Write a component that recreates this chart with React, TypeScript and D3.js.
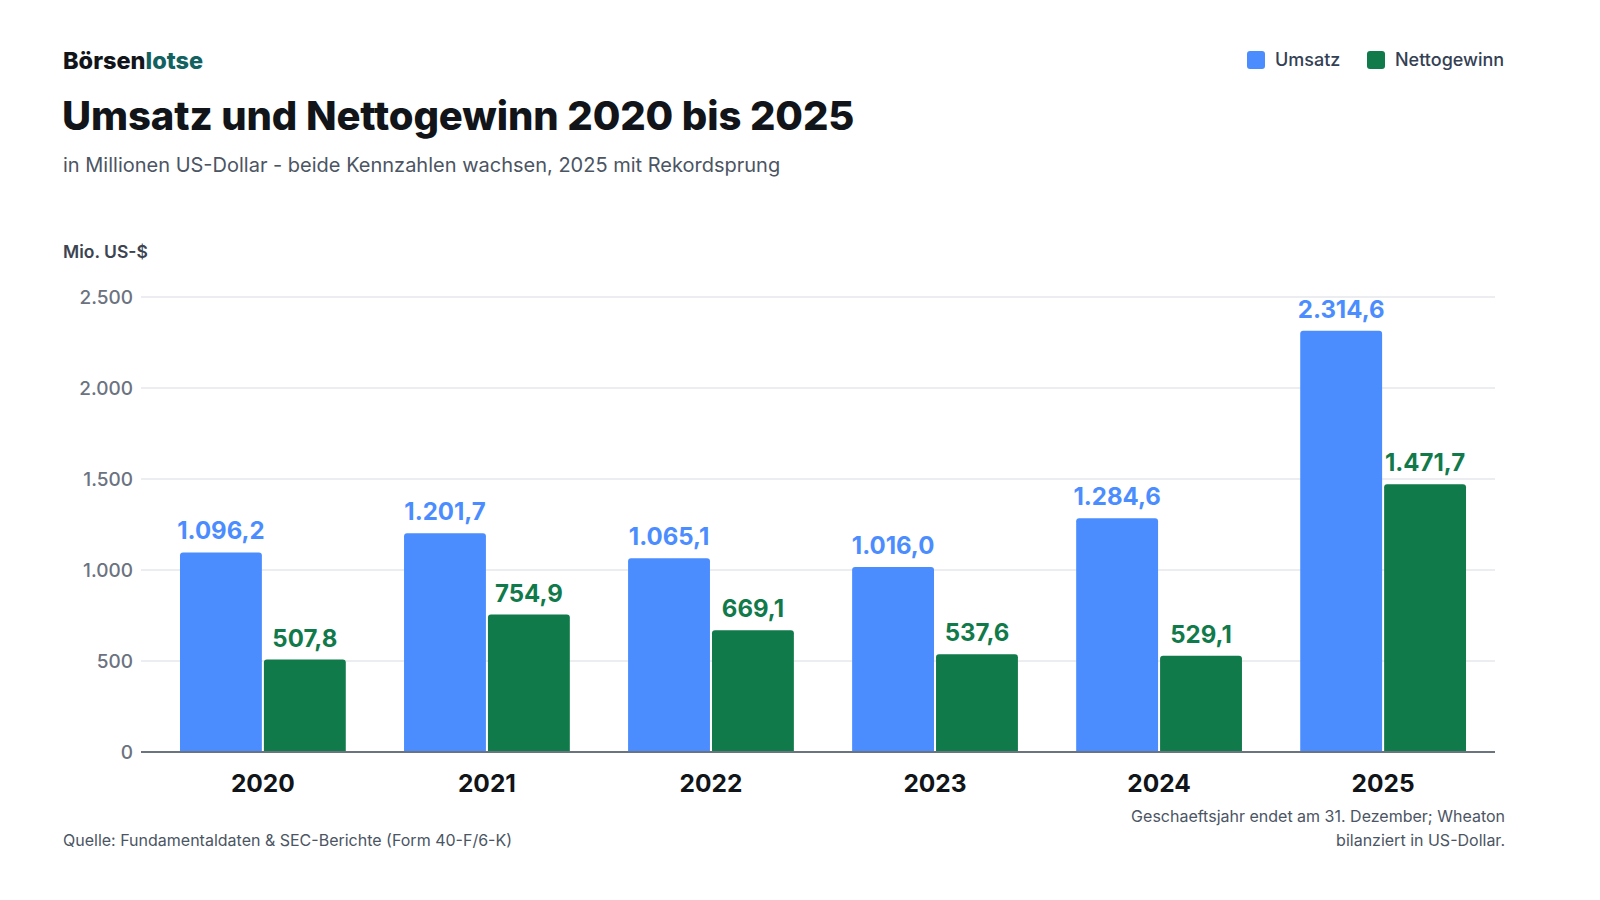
import { useRef, useEffect } from 'react';
import * as d3 from 'd3';

const YEARS = ['2020', '2021', '2022', '2023', '2024', '2025'];
const UMSATZ = [1096.2, 1201.7, 1065.1, 1016.0, 1284.6, 2314.6];
const NETTOGEWINN = [507.8, 754.9, 669.1, 537.6, 529.1, 1471.7];
const Y_TICKS = [0, 500, 1000, 1500, 2000, 2500];

const SERIES = [
  { key: 'Umsatz', values: UMSATZ, color: '#4b8dff', label: '#4b8dff' },
  { key: 'Nettogewinn', values: NETTOGEWINN, color: '#117a4b', label: '#117a4b' },
];

const W = 1600;
const H = 900;
const FONT = 'Inter, "Noto Sans", sans-serif';

const fmt = (v: number) =>
  v.toLocaleString('de-DE', { minimumFractionDigits: 1, maximumFractionDigits: 1 });
const fmtTick = (v: number) => v.toLocaleString('de-DE');

export default function App() {
  const ref = useRef<SVGSVGElement>(null);

  useEffect(() => {
    document.body.style.margin = '0';
    if (!ref.current) return;
    const svg = d3.select(ref.current);
    svg.selectAll('*').remove();

    const plotLeft = 141;
    const plotRight = 1495;

    const x = d3.scaleBand<string>()
      .domain(YEARS)
      .range([141, 1505])
      .paddingInner(0.26)
      .paddingOuter(0.174);

    const inner = d3.scaleBand<string>()
      .domain(SERIES.map(s => s.key))
      .range([0, x.bandwidth()])
      .paddingInner(0.024);

    const y = d3.scaleLinear().domain([0, 2500]).range([752, 297]);

    // Header
    const logo = svg.append('text')
      .attr('x', 63).attr('y', 69)
      .attr('font-family', FONT).attr('font-size', 23.5).attr('font-weight', 800);
    logo.append('tspan').attr('fill', '#111418').text('Börsen');
    logo.append('tspan').attr('fill', '#13625f').text('lotse');

    svg.append('text')
      .attr('x', 62).attr('y', 130)
      .attr('font-family', FONT).attr('font-size', 40).attr('font-weight', 800)
      .attr('letter-spacing', '-0.1')
      .attr('fill', '#111418')
      .text('Umsatz und Nettogewinn 2020 bis 2025');

    svg.append('text')
      .attr('x', 63).attr('y', 172)
      .attr('font-family', FONT).attr('font-size', 20)
      .attr('fill', '#4b5563')
      .text('in Millionen US-Dollar - beide Kennzahlen wachsen, 2025 mit Rekordsprung');

    // Legend
    const legendPos = [1247, 1367];
    SERIES.forEach((s, i) => {
      const g = svg.append('g').attr('transform', `translate(${legendPos[i]},51)`);
      g.append('rect').attr('width', 18).attr('height', 18).attr('rx', 3).attr('fill', s.color);
      g.append('text')
        .attr('x', 28).attr('y', 15)
        .attr('font-family', FONT).attr('font-size', 18).attr('font-weight', 500)
        .attr('fill', '#344054')
        .text(s.key);
    });

    // Y axis label
    svg.append('text')
      .attr('x', 63).attr('y', 258)
      .attr('font-family', FONT).attr('font-size', 17.5).attr('font-weight', 600)
      .attr('fill', '#3d4451')
      .text('Mio. US-$');

    // Grid + ticks
    const grid = svg.append('g');
    grid.selectAll('line')
      .data(Y_TICKS.filter(t => t > 0))
      .join('line')
      .attr('x1', plotLeft).attr('x2', plotRight)
      .attr('y1', d => y(d)).attr('y2', d => y(d))
      .attr('stroke', '#e5e7eb').attr('stroke-width', 1.5);

    grid.selectAll('text')
      .data(Y_TICKS)
      .join('text')
      .attr('x', 133).attr('y', d => y(d) + 7)
      .attr('text-anchor', 'end')
      .attr('font-family', FONT).attr('font-size', 19).attr('font-weight', 500)
      .attr('fill', '#6b7280')
      .text(d => fmtTick(d));

    // Bars
    const groups = svg.append('g').selectAll('g')
      .data(YEARS)
      .join('g')
      .attr('transform', d => `translate(${x(d)},0)`);

    SERIES.forEach(s => {
      groups.append('path')
        .attr('d', (_, i) => {
          const x0 = inner(s.key)!;
          const w = inner.bandwidth();
          const top = y(s.values[i]);
          const bottom = y(0);
          const r = 3;
          return `M${x0},${bottom}V${top + r}Q${x0},${top} ${x0 + r},${top}H${x0 + w - r}Q${x0 + w},${top} ${x0 + w},${top + r}V${bottom}Z`;
        })
        .attr('fill', s.color);

      groups.append('text')
        .attr('x', inner(s.key)! + inner.bandwidth() / 2)
        .attr('y', (_, i) => y(s.values[i]) - 13)
        .attr('text-anchor', 'middle')
        .attr('font-family', FONT).attr('font-size', 24).attr('font-weight', 700)
        .attr('fill', s.label)
        .text((_, i) => fmt(s.values[i]));
    });

    // Baseline
    svg.append('line')
      .attr('x1', plotLeft).attr('x2', plotRight)
      .attr('y1', y(0)).attr('y2', y(0))
      .attr('stroke', '#6b7280').attr('stroke-width', 2);

    // X labels
    svg.append('g').selectAll('text')
      .data(YEARS)
      .join('text')
      .attr('x', d => x(d)! + x.bandwidth() / 2)
      .attr('y', 792)
      .attr('text-anchor', 'middle')
      .attr('font-family', FONT).attr('font-size', 24.5).attr('font-weight', 700)
      .attr('fill', '#111418')
      .text(d => d);

    // Footer
    svg.append('text')
      .attr('x', 63).attr('y', 846)
      .attr('font-family', FONT).attr('font-size', 16)
      .attr('fill', '#4b5563')
      .text('Quelle: Fundamentaldaten & SEC-Berichte (Form 40-F/6-K)');

    const note = svg.append('text')
      .attr('text-anchor', 'end')
      .attr('font-family', FONT).attr('font-size', 16)
      .attr('fill', '#4b5563');
    note.append('tspan').attr('x', 1505).attr('y', 822)
      .text('Geschaeftsjahr endet am 31. Dezember; Wheaton');
    note.append('tspan').attr('x', 1505).attr('y', 846)
      .text('bilanziert in US-Dollar.');
  }, []);

  return (
    <svg
      ref={ref}
      width={W}
      height={H}
      viewBox={`0 0 ${W} ${H}`}
      style={{ display: 'block', background: '#ffffff' }}
    />
  );
}
